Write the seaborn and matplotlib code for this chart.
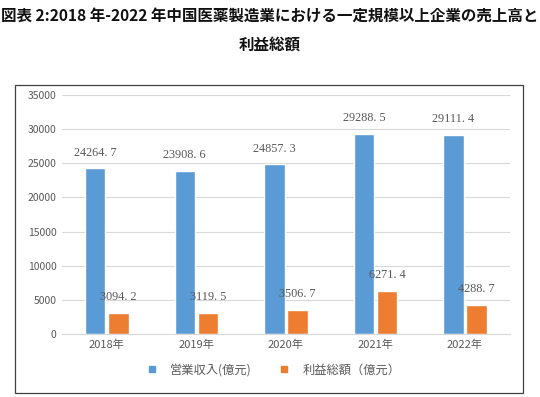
import matplotlib
matplotlib.use("Agg")
import matplotlib.pyplot as plt
import seaborn as sns
import pandas as pd
from matplotlib.patches import Rectangle
from matplotlib.lines import Line2D

years = ["2018年", "2019年", "2020年", "2021年", "2022年"]
revenue = [24264.7, 23908.6, 24857.3, 29288.5, 29111.4]
profit = [3094.2, 3119.5, 3506.7, 6271.4, 4288.7]
series_names = ["営業収入(億元)", "利益総額（億元）"]
yticks = [0, 5000, 10000, 15000, 20000, 25000, 30000, 35000]

sns.set_theme(style="white")
plt.rcParams['font.family'] = ['Noto Sans CJK JP', 'DejaVu Sans']

df = pd.DataFrame({
    "year": years * 2,
    "value": revenue + profit,
    "series": [series_names[0]] * len(years) + [series_names[1]] * len(years),
})

blue = "#5B9BD5"
orange = "#ED7D31"
gray_text = "#595959"

fig = plt.figure(figsize=(5.4, 3.97), dpi=100)
ax = fig.add_axes([0.115, 0.1587, 0.829, 0.602])

sns.barplot(data=df, x="year", y="value", hue="series", order=years,
            hue_order=series_names, palette=[blue, orange], width=0.52,
            gap=0.12, ax=ax, legend=False, saturation=1)

ax.set_ylim(0, 35000)
ax.set_xlim(-0.5, 4.5)
ax.set_yticks(yticks)
ax.set_yticklabels([str(t) for t in yticks], color=gray_text, fontsize=7.5)
ax.set_xticks(range(len(years)))
ax.set_xticklabels(years, color=gray_text, fontsize=8)
ax.tick_params(axis="both", length=0, pad=4)
ax.set_xlabel("")
ax.set_ylabel("")
ax.yaxis.grid(True, color="#D9D9D9", linewidth=0.8)
ax.set_axisbelow(True)
for s in ["left", "right", "top"]:
    ax.spines[s].set_visible(False)
ax.spines["bottom"].set_color("#D9D9D9")
ax.spines["bottom"].set_linewidth(0.8)

for cont in ax.containers:
    labels = [f"{b.get_height():.1f}".replace(".", ". ") for b in cont]
    ax.bar_label(cont, labels=labels, padding=7, fontsize=8.8,
                 color=gray_text, family=['Liberation Serif', 'DejaVu Serif'])

handles = [Line2D([], [], marker="s", linestyle="", color=c, markersize=4.5)
           for c in (blue, orange)]
fig.legend(handles, series_names, loc="center", bbox_to_anchor=(0.50, 0.068),
           ncol=2, frameon=False, fontsize=8.8, handletextpad=0.5,
           columnspacing=1.6, labelcolor=gray_text)

fig.patches.append(Rectangle((15 / 540, 1 - 393 / 397), 508 / 540, 308 / 397,
                             transform=fig.transFigure, fill=False,
                             edgecolor="#404040", linewidth=0.9))

fig.text(0.5, 1 - 16 / 397,
         "図表 2:2018 年-2022 年中国医薬製造業における一定規模以上企業の売上高と",
         ha="center", va="center", fontsize=11.2, fontweight="bold", color="#111111")
fig.text(0.5, 1 - 45 / 397, "利益総額", ha="center", va="center",
         fontsize=11.2, fontweight="bold", color="#111111")

fig.savefig("out.png", dpi=100)
